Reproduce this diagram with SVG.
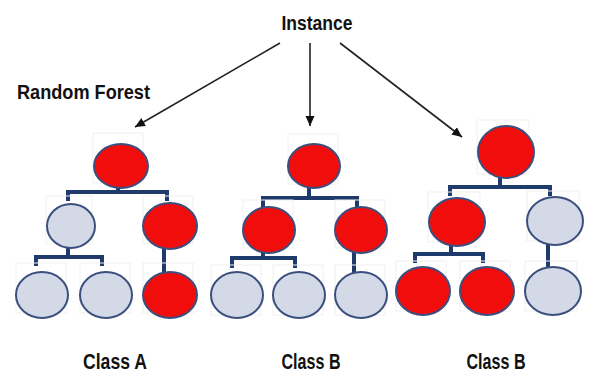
<svg xmlns="http://www.w3.org/2000/svg" width="590" height="374" viewBox="0 0 590 374">
<defs>
<marker id="ah" markerWidth="10" markerHeight="10" viewBox="0 0 10 10" refX="10" refY="5" orient="auto" markerUnits="userSpaceOnUse">
<path d="M0,0.5 L10,5 L0,9.5 z" fill="#111"/>
</marker>
</defs>
<style>
.red{fill:#f20d0d;stroke:#3a4f7e;stroke-width:2}
.gray{fill:#d3d9e6;stroke:#3a4f7e;stroke-width:2}
.br{fill:none;stroke:#1f3b6b;stroke-width:4;stroke-linecap:square}
.arr{fill:none;stroke:#222;stroke-width:1.6;marker-end:url(#ah)}
.lbl{font-family:"Liberation Sans",Arial,sans-serif;font-weight:bold;font-size:20px;fill:#111}
.cls{font-size:22px}
.fr{fill:none;stroke:#f0f0f0;stroke-width:1}
</style>
<rect width="590" height="374" fill="#fff"/>
<text class="lbl" x="317" y="30" text-anchor="middle" textLength="71" lengthAdjust="spacingAndGlyphs">Instance</text>
<text class="lbl" x="17" y="99" textLength="133" lengthAdjust="spacingAndGlyphs">Random Forest</text>
<text class="lbl cls" x="115" y="369" text-anchor="middle" textLength="64" lengthAdjust="spacingAndGlyphs">Class A</text>
<text class="lbl cls" x="311" y="369" text-anchor="middle" textLength="59" lengthAdjust="spacingAndGlyphs">Class B</text>
<text class="lbl cls" x="496" y="369" text-anchor="middle" textLength="59" lengthAdjust="spacingAndGlyphs">Class B</text>
<g id="connectors">
<path class="arr" d="M280,43 L135,127"/>
<path class="arr" d="M310,43 L310,126"/>
<path class="arr" d="M340,43 L462,137"/>
<path class="br" d="M118,188 V192 M68,199 V192 H167 V199"/>
<path class="br" d="M68,248 V257 M36,264 V257 H102 V264"/>
<path class="br" d="M164,249 V271"/>
<path class="br" d="M309,188 V198 M263,205 V198 H357 V205"/>
<path class="br" d="M263,253 V258 M232,266 V258 H295 V266"/>
<path class="br" d="M354,253 V271"/>
<path class="br" d="M500,178 V187 M450,194 V187 H550 V194"/>
<path class="br" d="M451,246 V254 M415,261 V254 H483 V261"/>
<path class="br" d="M548,245 V266"/>
</g>
<g id="t1-root"><rect class="fr" x="93" y="133" width="50" height="50"/><ellipse class="red" cx="121" cy="166" rx="27" ry="22"/></g>
<g id="t1-l"><rect class="fr" x="46" y="196" width="46" height="48"/><ellipse class="gray" cx="71" cy="226" rx="24" ry="22"/></g>
<g id="t1-r"><rect class="fr" x="143" y="196" width="50" height="48"/><ellipse class="red" cx="170" cy="226" rx="27" ry="23"/></g>
<g id="t1-ll"><rect class="fr" x="16" y="263" width="50" height="50"/><ellipse class="gray" cx="42" cy="295" rx="26" ry="23"/></g>
<g id="t1-lr"><rect class="fr" x="80" y="263" width="50" height="50"/><ellipse class="gray" cx="106" cy="295" rx="26" ry="23"/></g>
<g id="t1-rr"><rect class="fr" x="143" y="263" width="50" height="50"/><ellipse class="red" cx="170" cy="295" rx="27" ry="23"/></g>
<g id="t2-root"><rect class="fr" x="288" y="134" width="50" height="50"/><ellipse class="red" cx="314" cy="166" rx="26" ry="22"/></g>
<g id="t2-l"><rect class="fr" x="243" y="200" width="50" height="48"/><ellipse class="red" cx="269" cy="230" rx="26" ry="23"/></g>
<g id="t2-r"><rect class="fr" x="335" y="200" width="50" height="48"/><ellipse class="red" cx="361" cy="230" rx="26" ry="23"/></g>
<g id="t2-ll"><rect class="fr" x="211" y="265" width="50" height="50"/><ellipse class="gray" cx="237" cy="295" rx="26" ry="23"/></g>
<g id="t2-lr"><rect class="fr" x="273" y="265" width="50" height="50"/><ellipse class="gray" cx="299" cy="295" rx="26" ry="23"/></g>
<g id="t2-rr"><rect class="fr" x="335" y="265" width="50" height="50"/><ellipse class="gray" cx="361" cy="295" rx="26" ry="23"/></g>
<g id="t3-root"><rect class="fr" x="477" y="120" width="52" height="54"/><ellipse class="red" cx="506" cy="152" rx="28" ry="26"/></g>
<g id="t3-l"><rect class="fr" x="428" y="192" width="52" height="50"/><ellipse class="red" cx="457" cy="222" rx="28" ry="24"/></g>
<g id="t3-r"><rect class="fr" x="527" y="191" width="52" height="50"/><ellipse class="gray" cx="555" cy="221" rx="28" ry="24"/></g>
<g id="t3-ll"><rect class="fr" x="396" y="261" width="50" height="50"/><ellipse class="red" cx="423" cy="291" rx="27" ry="24"/></g>
<g id="t3-lr"><rect class="fr" x="460" y="261" width="50" height="50"/><ellipse class="red" cx="487" cy="291" rx="27" ry="24"/></g>
<g id="t3-rr"><rect class="fr" x="525" y="261" width="52" height="50"/><ellipse class="gray" cx="553" cy="291" rx="28" ry="24"/></g>
</svg>
